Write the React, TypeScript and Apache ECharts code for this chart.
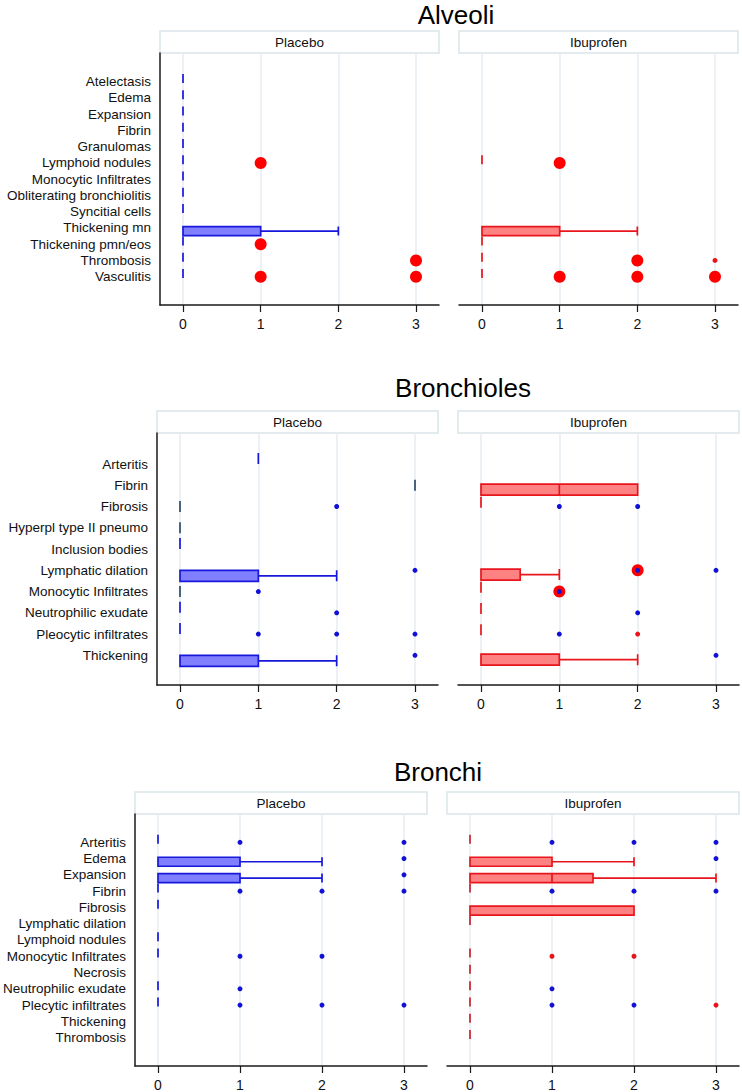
import { useEffect, useRef } from "react";
import * as echarts from "echarts";

type Box = [string, number, number, number, number, number];
type Pt = [number, string];

// ---- Alveoli ----
const alveoliCategories = [
  "Atelectasis", "Edema", "Expansion", "Fibrin", "Granulomas", "Lymphoid nodules",
  "Monocytic Infiltrates", "Obliterating bronchiolitis", "Syncitial cells",
  "Thickening mn", "Thickening pmn/eos", "Thrombosis", "Vasculitis",
];
const alveoliPlaceboBoxes: Box[] = [
  ["Atelectasis", 0, 0, 0, 0, 0],
  ["Edema", 0, 0, 0, 0, 0],
  ["Expansion", 0, 0, 0, 0, 0],
  ["Fibrin", 0, 0, 0, 0, 0],
  ["Granulomas", 0, 0, 0, 0, 0],
  ["Lymphoid nodules", 0, 0, 0, 0, 0],
  ["Monocytic Infiltrates", 0, 0, 0, 0, 0],
  ["Obliterating bronchiolitis", 0, 0, 0, 0, 0],
  ["Syncitial cells", 0, 0, 0, 0, 0],
  ["Thickening mn", 0, 0, 0, 1, 2],
  ["Thickening pmn/eos", 0, 0, 0, 0, 0],
  ["Thrombosis", 0, 0, 0, 0, 0],
  ["Vasculitis", 0, 0, 0, 0, 0],
];
const alveoliPlaceboLarge: Pt[] = [
  [1, "Lymphoid nodules"], [1, "Thickening pmn/eos"], [3, "Thrombosis"], [1, "Vasculitis"], [3, "Vasculitis"],
];
const alveoliIbuprofenBoxes: Box[] = [
  ["Lymphoid nodules", 0, 0, 0, 0, 0],
  ["Thickening mn", 0, 0, 0, 1, 2],
  ["Thickening pmn/eos", 0, 0, 0, 0, 0],
  ["Thrombosis", 0, 0, 0, 0, 0],
  ["Vasculitis", 0, 0, 0, 0, 0],
];
const alveoliIbuprofenLarge: Pt[] = [
  [1, "Lymphoid nodules"], [2, "Thrombosis"], [1, "Vasculitis"], [2, "Vasculitis"], [3, "Vasculitis"],
];
const alveoliIbuprofenRed: Pt[] = [[3, "Thrombosis"]];

// ---- Bronchioles ----
const bronchiolesCategories = [
  "Arteritis", "Fibrin", "Fibrosis", "Hyperpl type II pneumo", "Inclusion bodies",
  "Lymphatic dilation", "Monocytic Infiltrates", "Neutrophilic exudate",
  "Pleocytic infiltrates", "Thickening",
];
const bronchiolesPlaceboBoxes: Box[] = [
  ["Arteritis", 1, 1, 1, 1, 1],
  ["Inclusion bodies", 0, 0, 0, 0, 0],
  ["Lymphatic dilation", 0, 0, 0, 1, 2],
  ["Neutrophilic exudate", 0, 0, 0, 0, 0],
  ["Pleocytic infiltrates", 0, 0, 0, 0, 0],
  ["Thickening", 0, 0, 0, 1, 2],
];
const bronchiolesPlaceboDarkBoxes: Box[] = [
  ["Fibrin", 3, 3, 3, 3, 3],
  ["Fibrosis", 0, 0, 0, 0, 0],
  ["Hyperpl type II pneumo", 0, 0, 0, 0, 0],
  ["Monocytic Infiltrates", 0, 0, 0, 0, 0],
];
const bronchiolesPlaceboBlue: Pt[] = [
  [2, "Fibrosis"], [3, "Lymphatic dilation"], [1, "Monocytic Infiltrates"], [2, "Neutrophilic exudate"],
  [1, "Pleocytic infiltrates"], [2, "Pleocytic infiltrates"], [3, "Pleocytic infiltrates"], [3, "Thickening"],
];
const bronchiolesIbuprofenBoxes: Box[] = [
  ["Fibrin", 0, 0, 1, 2, 2],
  ["Fibrosis", 0, 0, 0, 0, 0],
  ["Lymphatic dilation", 0, 0, 0, 0.5, 1],
  ["Monocytic Infiltrates", 0, 0, 0, 0, 0],
  ["Neutrophilic exudate", 0, 0, 0, 0, 0],
  ["Pleocytic infiltrates", 0, 0, 0, 0, 0],
  ["Thickening", 0, 0, 0, 1, 2],
];
const bronchiolesIbuprofenLarge: Pt[] = [[2, "Lymphatic dilation"], [1, "Monocytic Infiltrates"]];
const bronchiolesIbuprofenBlue: Pt[] = [
  [1, "Fibrosis"], [2, "Fibrosis"], [2, "Lymphatic dilation"], [3, "Lymphatic dilation"],
  [1, "Monocytic Infiltrates"], [2, "Neutrophilic exudate"], [1, "Pleocytic infiltrates"], [3, "Thickening"],
];
const bronchiolesIbuprofenRed: Pt[] = [[2, "Pleocytic infiltrates"]];

// ---- Bronchi ----
const bronchiCategories = [
  "Arteritis", "Edema", "Expansion", "Fibrin", "Fibrosis", "Lymphatic dilation",
  "Lymphoid nodules", "Monocytic Infiltrates", "Necrosis", "Neutrophilic exudate",
  "Plecytic infiltrates", "Thickening", "Thrombosis",
];
const bronchiPlaceboBoxes: Box[] = [
  ["Arteritis", 0, 0, 0, 0, 0],
  ["Edema", 0, 0, 0, 1, 2],
  ["Expansion", 0, 0, 0, 1, 2],
  ["Fibrin", 0, 0, 0, 0, 0],
  ["Fibrosis", 0, 0, 0, 0, 0],
  ["Lymphoid nodules", 0, 0, 0, 0, 0],
  ["Monocytic Infiltrates", 0, 0, 0, 0, 0],
  ["Neutrophilic exudate", 0, 0, 0, 0, 0],
  ["Plecytic infiltrates", 0, 0, 0, 0, 0],
];
const bronchiPlaceboBlue: Pt[] = [
  [1, "Arteritis"], [3, "Arteritis"], [3, "Edema"], [3, "Expansion"],
  [1, "Fibrin"], [2, "Fibrin"], [3, "Fibrin"], [1, "Monocytic Infiltrates"], [2, "Monocytic Infiltrates"],
  [1, "Neutrophilic exudate"], [1, "Plecytic infiltrates"], [2, "Plecytic infiltrates"], [3, "Plecytic infiltrates"],
];
const bronchiIbuprofenBoxes: Box[] = [
  ["Arteritis", 0, 0, 0, 0, 0],
  ["Edema", 0, 0, 0, 1, 2],
  ["Expansion", 0, 0, 1, 1.5, 3],
  ["Fibrin", 0, 0, 0, 0, 0],
  ["Fibrosis", 0, 0, 0, 2, 2],
  ["Lymphatic dilation", 0, 0, 0, 0, 0],
  ["Monocytic Infiltrates", 0, 0, 0, 0, 0],
  ["Necrosis", 0, 0, 0, 0, 0],
  ["Neutrophilic exudate", 0, 0, 0, 0, 0],
  ["Plecytic infiltrates", 0, 0, 0, 0, 0],
  ["Thickening", 0, 0, 0, 0, 0],
  ["Thrombosis", 0, 0, 0, 0, 0],
];
const bronchiIbuprofenBlue: Pt[] = [
  [1, "Arteritis"], [2, "Arteritis"], [3, "Arteritis"], [3, "Edema"],
  [1, "Fibrin"], [2, "Fibrin"], [3, "Fibrin"], [1, "Neutrophilic exudate"],
  [1, "Plecytic infiltrates"], [2, "Plecytic infiltrates"],
];
const bronchiIbuprofenRed: Pt[] = [
  [1, "Monocytic Infiltrates"], [2, "Monocytic Infiltrates"], [3, "Plecytic infiltrates"],
];

const xTicks = [0, 1, 2, 3];

// ---- layout / styling ----
const FONT = "Liberation Sans, Arial, Helvetica, sans-serif";
const FRAME_H = 252;
const STRIP_H = 22;
const PAD = 23;

const placebo = { fill: "#8080ff", border: "#1818dc", dash: "#1818dc" };
const ibuprofen = { fill: "#ff8282", border: "#e8161c", dash: "#e8161c" };

type Facet = {
  name: string;
  left: number;
  width: number;
  scheme: { fill: string; border: string; dash: string };
  dashColor?: string;
  boxes: Box[];
  darkBoxes?: Box[];
  large?: Pt[];
  blue?: Pt[];
  red?: Pt[];
};

type Panel = {
  title: string;
  titleX: number;
  titleY: number;
  top: number;
  firstCat: number;
  step: number;
  boxW: number;
  categories: string[];
  facets: Facet[];
};

const panels: Panel[] = [
  {
    title: "Alveoli", titleX: 456, titleY: 15, top: 53, firstCat: 81.7, step: 16.25, boxW: 9,
    categories: alveoliCategories,
    facets: [
      { name: "Placebo", left: 160, width: 279, scheme: placebo, boxes: alveoliPlaceboBoxes, large: alveoliPlaceboLarge },
      { name: "Ibuprofen", left: 459, width: 279, scheme: ibuprofen, boxes: alveoliIbuprofenBoxes, large: alveoliIbuprofenLarge, red: alveoliIbuprofenRed },
    ],
  },
  {
    title: "Bronchioles", titleX: 463, titleY: 388, top: 433, firstCat: 464, step: 21.26, boxW: 11,
    categories: bronchiolesCategories,
    facets: [
      { name: "Placebo", left: 157, width: 281, scheme: placebo, boxes: bronchiolesPlaceboBoxes, darkBoxes: bronchiolesPlaceboDarkBoxes, blue: bronchiolesPlaceboBlue },
      { name: "Ibuprofen", left: 458, width: 281, scheme: ibuprofen, boxes: bronchiolesIbuprofenBoxes, large: bronchiolesIbuprofenLarge, blue: bronchiolesIbuprofenBlue, red: bronchiolesIbuprofenRed },
    ],
  },
  {
    title: "Bronchi", titleX: 438, titleY: 772, top: 814, firstCat: 842.3, step: 16.28, boxW: 9,
    categories: bronchiCategories,
    facets: [
      { name: "Placebo", left: 135, width: 292, scheme: placebo, boxes: bronchiPlaceboBoxes, blue: bronchiPlaceboBlue },
      { name: "Ibuprofen", left: 447, width: 292, scheme: ibuprofen, dashColor: "#c9222c", boxes: bronchiIbuprofenBoxes, blue: bronchiIbuprofenBlue, red: bronchiIbuprofenRed },
    ],
  },
];

function boxData(categories: string[], list: Box[]) {
  return categories.map((c) => {
    const b = list.find((r) => r[0] === c);
    return b ? b.slice(1) : ["-", "-", "-", "-", "-"];
  });
}

function buildOption() {
  const grid: any[] = [];
  const xAxis: any[] = [];
  const yAxis: any[] = [];
  const series: any[] = [];
  const graphic: any[] = [];
  const axisColor = "#1a1a1a";

  panels.forEach((p) => {
    graphic.push({
      type: "text",
      x: p.titleX,
      y: p.titleY,
      style: { text: p.title, fontSize: 26, fontFamily: FONT, fill: "#000", align: "center", verticalAlign: "middle" },
    });

    p.facets.forEach((f, fi) => {
      const unit = (f.width - 2 * PAD) / 3;
      const xmin = -PAD / unit;
      const xmax = 3 + PAD / unit;
      const g = grid.length;

      // strip
      graphic.push({
        type: "rect",
        shape: { x: f.left, y: p.top - STRIP_H, width: f.width, height: STRIP_H },
        style: { fill: "#fff", stroke: "#dce5ea", lineWidth: 1.5 },
      });
      graphic.push({
        type: "text",
        x: f.left + f.width / 2,
        y: p.top - STRIP_H / 2,
        style: { text: f.name, fontSize: 13.5, fontFamily: FONT, fill: "#111", align: "center", verticalAlign: "middle" },
      });

      // frame grid (axis lines)
      grid.push({ left: f.left, top: p.top, width: f.width, height: FRAME_H, outerBoundsMode: "none" });
      xAxis.push({
        gridIndex: g, type: "value", min: xmin, max: xmax,
        axisLine: { show: true, onZero: false, lineStyle: { color: axisColor, width: 1.5 } },
        axisTick: { show: false }, axisLabel: { show: false }, splitLine: { show: false },
      });
      yAxis.push({
        gridIndex: g, type: "value", min: 0, max: 1,
        axisLine: { show: fi === 0, onZero: false, lineStyle: { color: axisColor, width: 1.5 } },
        axisTick: { show: false }, axisLabel: { show: false }, splitLine: { show: false },
      });

      // tick grid
      grid.push({ left: f.left + PAD, top: p.top, width: 3 * unit, height: FRAME_H, outerBoundsMode: "none" });
      xAxis.push({
        gridIndex: g + 1, type: "value", min: xTicks[0], max: xTicks[xTicks.length - 1], interval: 1,
        axisLine: { show: false, onZero: false },
        axisTick: { show: true, length: 7, lineStyle: { color: axisColor, width: 1.2 } },
        axisLabel: { show: true, fontSize: 14, fontFamily: FONT, color: "#111", margin: 12 },
        splitLine: { show: true, lineStyle: { color: "#e4ecf0", width: 1.5 } },
      });
      yAxis.push({ gridIndex: g + 1, type: "value", min: 0, max: 1, show: false });

      // data grid
      grid.push({
        left: f.left, top: p.firstCat - p.step / 2, width: f.width,
        height: p.categories.length * p.step, outerBoundsMode: "none",
      });
      xAxis.push({ gridIndex: g + 2, type: "value", min: xmin, max: xmax, show: false });
      yAxis.push({
        gridIndex: g + 2, type: "category", inverse: true, data: p.categories,
        show: fi === 0,
        axisLine: { show: false }, axisTick: { show: false }, splitLine: { show: false },
        axisLabel: { show: fi === 0, interval: 0, margin: 9, fontSize: 13.5, fontFamily: FONT, color: "#111" },
      });

      const di = g + 2;
      const common = { xAxisIndex: di, yAxisIndex: di, silent: true, emphasis: { disabled: true } };
      const full = f.boxes.filter((b) => b[1] !== b[5]);
      const dashes = f.boxes.filter((b) => b[1] === b[5]);

      const boxSeries = (list: Box[], fill: string, border: string) => ({
        ...common,
        type: "boxplot",
        layout: "horizontal",
        boxWidth: [p.boxW, p.boxW],
        itemStyle: { color: fill, borderColor: border, borderWidth: 1.7 },
        data: boxData(p.categories, list),
      });

      series.push(boxSeries(dashes, f.scheme.fill, f.dashColor || f.scheme.dash));
      if (f.darkBoxes) series.push(boxSeries(f.darkBoxes, f.scheme.fill, "#2d4c6c"));
      series.push(boxSeries(full, f.scheme.fill, f.scheme.border));

      const pts = (list: Pt[] | undefined, size: number, color: string) => {
        if (!list) return;
        series.push({
          ...common, type: "scatter", clip: false, symbol: "circle", symbolSize: size,
          itemStyle: { color, opacity: 1 }, data: list, z: 4,
        });
      };
      pts(f.large, 12, "#ff0000");
      pts(f.blue, 5, "#1010d6");
      pts(f.red, 5, "#e8141a");
    });
  });

  return {
    animation: false,
    backgroundColor: "#ffffff",
    textStyle: { fontFamily: FONT },
    grid, xAxis, yAxis, series, graphic,
  };
}

function App() {
  const chartRef = useRef<HTMLDivElement | null>(null);

  useEffect(() => {
    if (!chartRef.current) return;
    const chart = echarts.init(chartRef.current, undefined, { renderer: "svg" });
    chart.setOption(buildOption() as any);
    return () => chart.dispose();
  }, []);

  return (
    <div
      ref={chartRef}
      style={{ position: "absolute", left: 0, top: 0, width: "742px", height: "1092px", background: "#fff" }}
    />
  );
}

export default App;
